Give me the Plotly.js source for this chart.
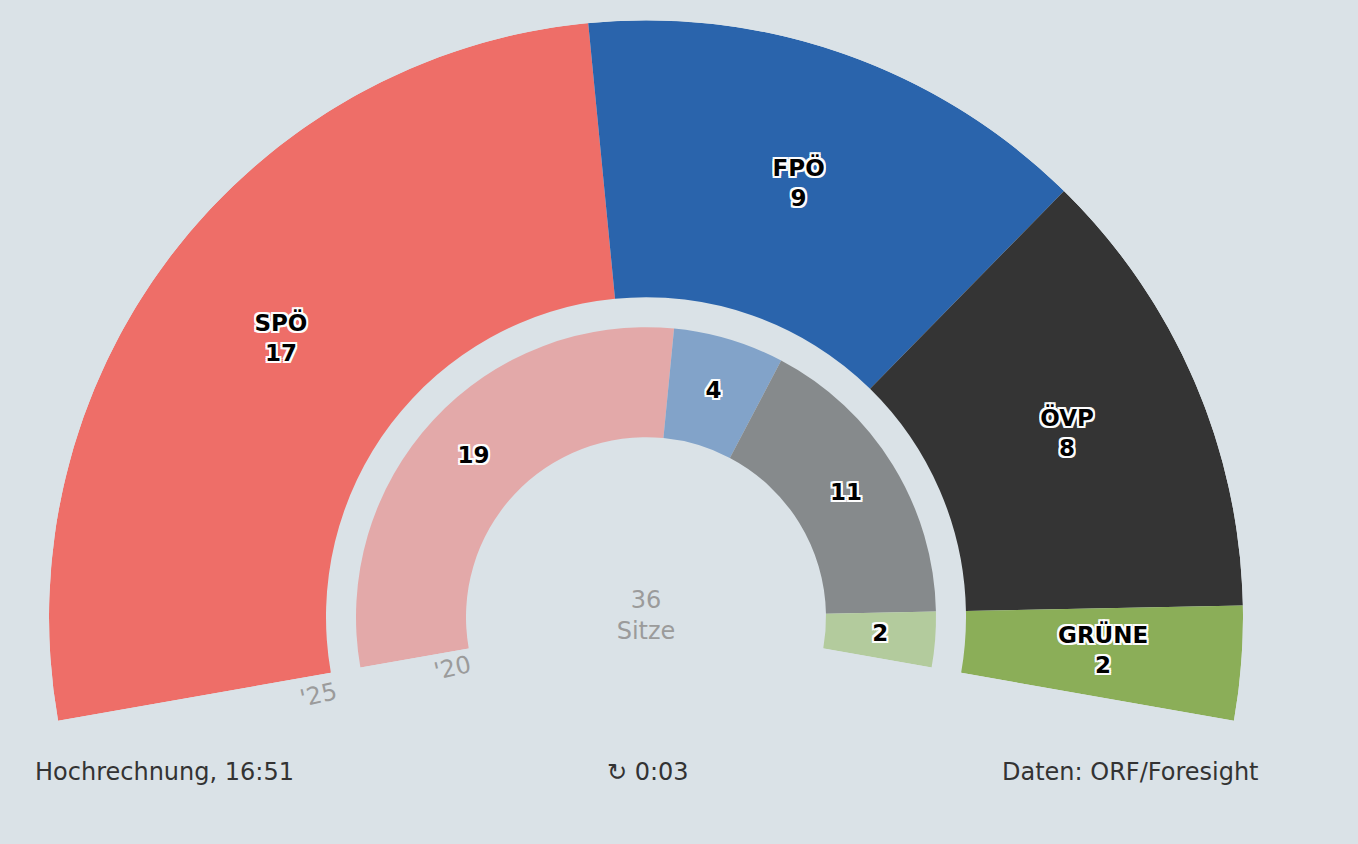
<!DOCTYPE html>
<html><head><meta charset="utf-8">
<script src="https://cdn.plot.ly/plotly-3.0.1.min.js"></script>
<style>html,body{margin:0;padding:0;background:#dae2e7;}#chart{width:1358px;height:844px;}</style>
</head><body><div id="chart"></div>
<script>
// ---- data ----
const parties = ["SPÖ", "FPÖ", "ÖVP", "GRÜNE"];
const seats2025 = [17, 9, 8, 2];
const seats2020 = [19, 4, 11, 2];
const colors2025 = ["#ee6e68", "#2a64ac", "#343434", "#8bae58"];
const colors2020 = ["#e3a9a9", "#82a3c9", "#868a8c", "#b3cb9d"];
const ringLabels = ["'25", "'20"];
const seatWord = "Sitze";
const footerLeft = "Hochrechnung, 16:51";
const footerMid = "↻ 0:03";
const footerRight = "Daten: ORF/Foresight";

// ---- geometry (styling) ----
const BG = "#dae2e7";
const FONT = "'DejaVu Sans', sans-serif";
const SPAN = 200, START = 190;
const W = 1358, H = 844;
const M = {l: 49, r: 115, t: 20, b: 123};
const R = (W - M.l - M.r) / 2;           // outer radius in px
const PH = H - M.t - M.b;
const outerRing = {base: 320 / 597, thick: 277 / 597};
const innerRing = {base: 180 / 597, thick: 110 / 597};

function ringGeom(seats) {
  const total = seats.reduce((a, b) => a + b, 0);
  const deg = SPAN / total;
  let cum = 0;
  const theta = [], width = [];
  seats.forEach(n => { theta.push((cum + n / 2) * deg); width.push(n * deg); cum += n; });
  return {theta, width, total};
}
const g25 = ringGeom(seats2025);
const g20 = ringGeom(seats2020);

const hc = "rgba(255,255,255,0.95)";
const halo = ["-2px -2px 0 " + hc, "2px -2px 0 " + hc, "-2px 2px 0 " + hc, "2px 2px 0 " + hc,
  "0 2px 0 " + hc, "0 -2px 0 " + hc, "2px 0 0 " + hc, "-2px 0 0 " + hc].join(", ");
const labelFont = {family: FONT, size: 23, color: "#000", weight: 700, shadow: halo};

const traces = [
  {type: "barpolar", r: seats2025.map(() => outerRing.thick), base: seats2025.map(() => outerRing.base),
   theta: g25.theta, width: g25.width, marker: {color: colors2025, line: {width: 0}}, hoverinfo: "skip"},
  {type: "barpolar", r: seats2020.map(() => innerRing.thick), base: seats2020.map(() => innerRing.base),
   theta: g20.theta, width: g20.width, marker: {color: colors2020, line: {width: 0}}, hoverinfo: "skip"},
  {type: "scatterpolar", mode: "text", r: seats2025.map(() => outerRing.base + outerRing.thick / 2),
   theta: g25.theta, text: parties.map((p, i) => p + "<br>" + seats2025[i]), textfont: labelFont,
   textposition: "middle center", hoverinfo: "skip", cliponaxis: false},
  {type: "scatterpolar", mode: "text", r: seats2020.map(() => innerRing.base + innerRing.thick / 2),
   theta: g20.theta, text: seats2020.map(String), textfont: labelFont,
   textposition: "middle center", hoverinfo: "skip", cliponaxis: false},
  {type: "scatterpolar", mode: "text", r: [0], theta: [0], text: [g25.total + "<br>" + seatWord],
   textfont: {family: FONT, size: 24, color: "#9b9b9b"}, textposition: "middle center", hoverinfo: "skip", cliponaxis: false}
];

// helper: layout angle (deg) & radius fraction -> paper coords
const cyPaper = (R * Math.sin(10 * Math.PI / 180)) / PH;
function toPaper(rf, angDeg) {
  const a = angDeg * Math.PI / 180;
  return {x: 0.5 + rf * R * Math.cos(a) / (2 * R), y: cyPaper + rf * R * Math.sin(a) / PH};
}
const p25 = toPaper(337 / 597, 193.4);
const p20 = toPaper(200 / 597, 194.8);

const annFont = {family: FONT, size: 24, color: "#333"};
const annotations = [
  {xref: "paper", yref: "paper", x: p25.x, y: p25.y, text: ringLabels[0], showarrow: false, textangle: -13,
   font: {family: FONT, size: 24, color: "#9b9b9b"}, xanchor: "center", yanchor: "middle"},
  {xref: "paper", yref: "paper", x: p20.x, y: p20.y, text: ringLabels[1], showarrow: false, textangle: -13,
   font: {family: FONT, size: 24, color: "#9b9b9b"}, xanchor: "center", yanchor: "middle"},
  {xref: "paper", yref: "paper", x: (33 - M.l) / (2 * R), y: -51 / PH, text: footerLeft, showarrow: false,
   font: annFont, xanchor: "left", yanchor: "middle"},
  {xref: "paper", yref: "paper", x: (648 - M.l) / (2 * R), y: -51 / PH, text: footerMid, showarrow: false,
   font: annFont, xanchor: "center", yanchor: "middle"},
  {xref: "paper", yref: "paper", x: (1261 - M.l) / (2 * R), y: -51 / PH, text: footerRight, showarrow: false,
   font: annFont, xanchor: "right", yanchor: "middle"}
];

const layout = {
  width: W, height: H, margin: M, paper_bgcolor: BG, plot_bgcolor: BG, showlegend: false,
  font: {family: FONT},
  polar: {
    domain: {x: [0, 1], y: [0, 1]}, sector: [-10, 190], hole: 0, bgcolor: "rgba(0,0,0,0)",
    barmode: "overlay",
    radialaxis: {visible: false, range: [0, 1], showgrid: false, showline: false, ticks: ""},
    angularaxis: {visible: false, rotation: START, direction: "clockwise", thetaunit: "degrees",
                  showgrid: false, showline: false, ticks: "", range: [0, SPAN]}
  },
  annotations: annotations
};

Plotly.newPlot("chart", traces, layout, {displayModeBar: false, staticPlot: true});
</script>
</body></html>
